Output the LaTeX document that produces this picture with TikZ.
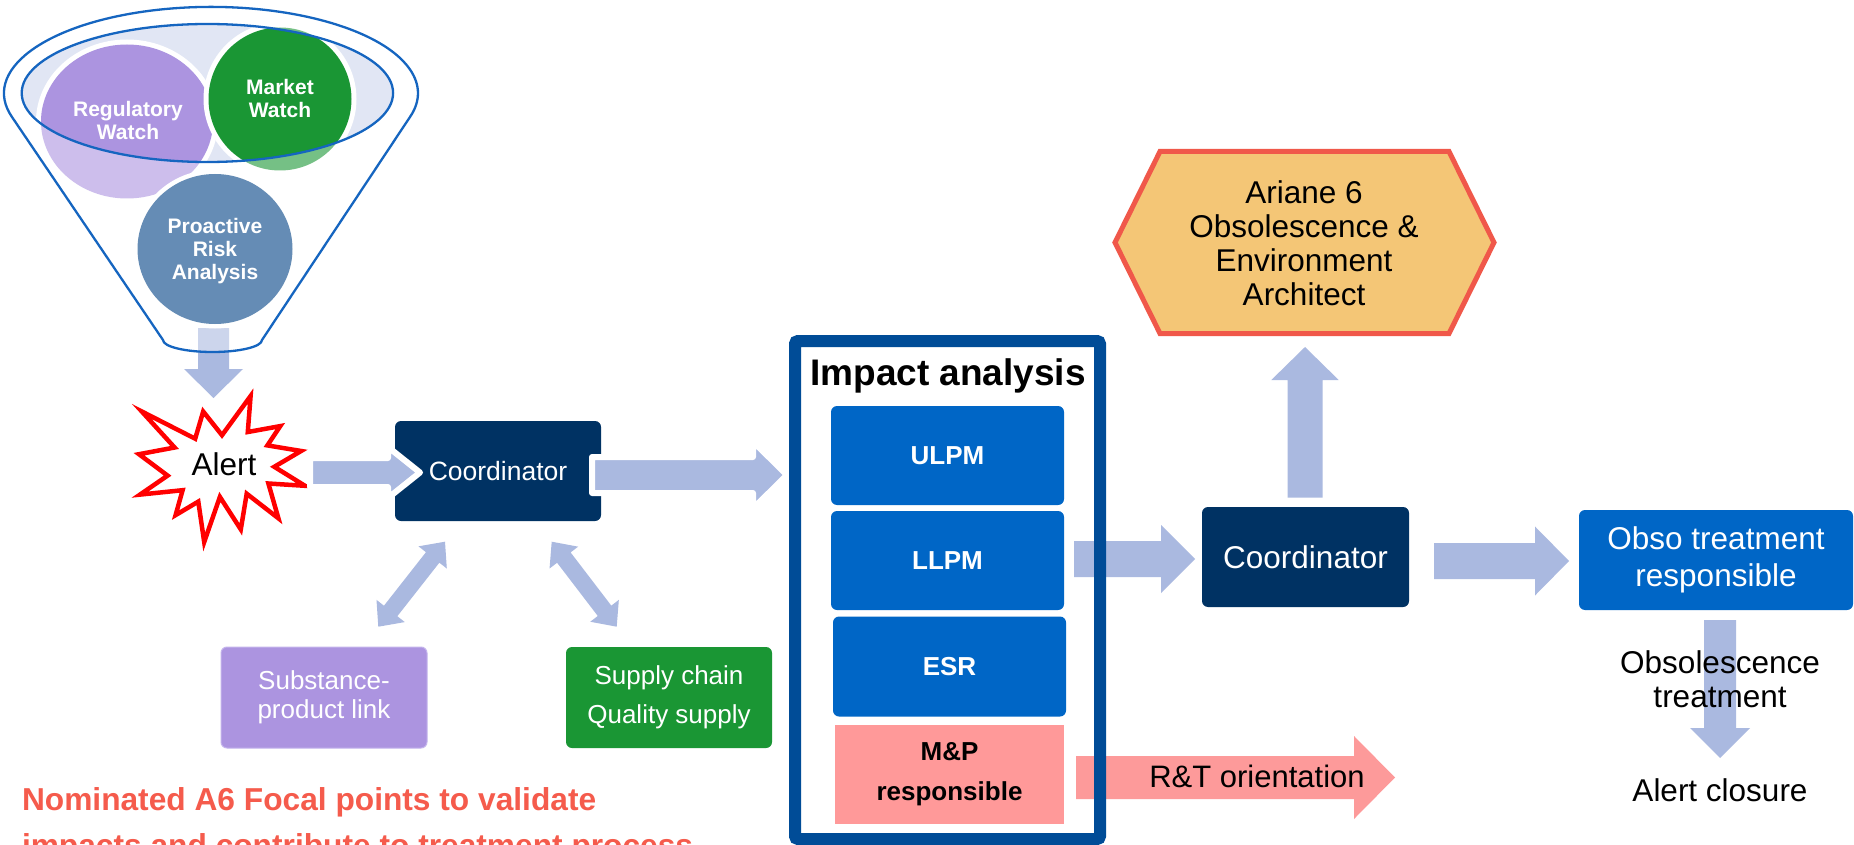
\documentclass[tikz,border=0pt]{standalone}
\usepackage{fontspec}
\setmainfont{Liberation Sans}
\usetikzlibrary{calc}
\definecolor{navy}{RGB}{0,50,99}
\definecolor{boxblue}{RGB}{0,102,198}
\definecolor{frameblue}{RGB}{0,76,151}
\definecolor{arrowblue}{RGB}{170,185,224}
\definecolor{arrowpink}{RGB}{253,154,154}
\definecolor{mppink}{RGB}{255,153,153}
\definecolor{lavender}{RGB}{172,148,224}
\definecolor{lavborder}{RGB}{196,180,236}
\definecolor{mygreen}{RGB}{26,150,52}
\definecolor{problue}{RGB}{101,140,181}
\definecolor{funnelblue}{RGB}{21,101,192}
\definecolor{ellfill}{RGB}{225,230,244}
\definecolor{hexfill}{RGB}{244,198,118}
\definecolor{hexline}{RGB}{240,88,74}
\definecolor{redtext}{RGB}{245,91,76}
% block arrow: style, from, to, shaft half width, head half width, head length
\newcommand\blockarrow[6]{%
  \coordinate (bahead) at ($(#3)!#6!(#2)$);
  \path[#1] ($(#2)!#4!90:(#3)$) -- ($(bahead)!#4!-90:(#2)$) -- ($(bahead)!#5!-90:(#2)$)
    -- (#3) -- ($(bahead)!#5!90:(#2)$) -- ($(bahead)!#4!90:(#2)$) -- ($(#2)!#4!-90:(#3)$) -- cycle;
}
% double block arrow
\newcommand\dblarrow[6]{%
  \coordinate (daA) at ($(#2)!#6!(#3)$);
  \coordinate (daB) at ($(#3)!#6!(#2)$);
  \path[#1] (#2) -- ($(daA)!#5!90:(#3)$) -- ($(daA)!#4!90:(#3)$) -- ($(daB)!#4!-90:(#2)$)
    -- ($(daB)!#5!-90:(#2)$) -- (#3) -- ($(daB)!#5!90:(#2)$) -- ($(daB)!#4!90:(#2)$)
    -- ($(daA)!#4!-90:(#3)$) -- ($(daA)!#5!-90:(#3)$) -- cycle;
}
\newcommand\funnelpath{(12,117) arc[start angle=164, end angle=376, x radius=207, y radius=86.3] -- (262,340) arc[start angle=0, end angle=180, x radius=49.5, y radius=12] -- cycle}
\begin{document}
\begin{tikzpicture}[x=1pt,y=-1pt,
  every node/.style={inner sep=0pt, outer sep=0pt, align=center},
  bigtxt/.style={font=\fontsize{31.5}{34}\selectfont},
  circtxt/.style={font=\bfseries\fontsize{21}{23}\selectfont, text=white},
  navybox/.style={rectangle, rounded corners=6pt, fill=navy, text=white, minimum height=100pt},
  bluebox/.style={rectangle, rounded corners=6pt, fill=boxblue, text=white, minimum width=233pt, minimum height=99pt, font=\bfseries\fontsize{26}{29}\selectfont},
  blockblue/.style={fill=arrowblue},
  blockpink/.style={fill=arrowpink},
  outlined/.style={fill=arrowblue, draw=white, line width=6pt, line join=round},
]
\useasboundingbox (0,0) rectangle (1854,845);
\fill[white] (0,0) rectangle (1854,845);

% ---------- funnel ----------
\fill[ellfill] (207.4,93) ellipse[x radius=185.7, y radius=69];
\fill[white] (127,121.5) ellipse[x radius=91, y radius=82];
\fill[lavender] (127,121.5) ellipse[x radius=86, y radius=77];
\fill[white] (280,99) circle[radius=76.5];
\fill[mygreen] (280,99) circle[radius=71.5];
\coordinate (fun-s) at (213.5,328);
\coordinate (fun-e) at (213.5,398);
\blockarrow{blockblue}{fun-s}{fun-e}{15.5pt}{29.5pt}{29pt}
\fill[white, fill opacity=0.4, even odd rule] \funnelpath (207.4,93) ellipse[x radius=185.7, y radius=69];
\fill[white] (215,249) ellipse[x radius=82, y radius=79.5];
\fill[problue] (215,249) ellipse[x radius=77.5, y radius=75];
\draw[funnelblue, line width=2.3pt] (207.4,93) ellipse[x radius=185.7, y radius=69];
\draw[funnelblue, line width=2.3pt, line join=round] \funnelpath;
\node[circtxt] (reg) at (128,120) {Regulatory\\Watch};
\node[circtxt] (mkt) at (280,98) {Market\\Watch};
\node[circtxt] (pra) at (215,251) {Proactive\\Risk\\Analysis};

% ---------- alert ----------
\draw[red, fill=white, line width=4.5pt, line join=miter]
  (222.0,435.2) -- (250.6,396) -- (247.8,432.0) -- (280.3,426.1) -- (267.4,445.4)
  -- (301.1,451.0) -- (274.3,466.8) -- (305.0,485.8) -- (268.4,483.5) -- (278.4,518.3)
  -- (246.7,493.7) -- (240.8,529.4) -- (219.9,496.9) -- (204.2,542) -- (198.3,501.6)
  -- (175.6,515.1) -- (182.6,490.2) -- (140.0,494.6) -- (167.6,475.6) -- (139,454.2)
  -- (174.6,447.5) -- (141.8,411.5) -- (195.2,438.7) -- (203.2,411.5) -- cycle;
\node[bigtxt] (alert) at (224,464) {Alert};

% ---------- coordinator 1 and partners ----------
\node[navybox, minimum width=206pt, font=\fontsize{26.5}{30}\selectfont] (coord1) at (498,471) {Coordinator};
\coordinate (al-s) at (310,472.5);
\coordinate (al-e) at (420,472.5);
\blockarrow{outlined}{al-s}{al-e}{14.5pt}{25.5pt}{32pt}
\coordinate (c1-s) at (592,475);
\coordinate (c1-e) at (787,475);
\blockarrow{outlined}{c1-s}{c1-e}{18pt}{33.5pt}{34pt}

\node[rectangle, rounded corners=6pt, fill=lavender, draw=lavborder, line width=1pt, text=white,
  minimum width=206pt, minimum height=101pt, font=\fontsize{26}{29}\selectfont] (subst) at (324,697.5) {Substance-\\product link};
\node[rectangle, rounded corners=6pt, fill=mygreen, text=white,
  minimum width=206pt, minimum height=101pt, font=\fontsize{26}{39}\selectfont] (supply) at (669,697.5) {Supply chain\\Quality supply};
\coordinate (d1a) at (378.3,626.7);
\coordinate (d1b) at (445,541.7);
\dblarrow{blockblue}{d1a}{d1b}{8.5pt}{18pt}{20pt}
\coordinate (d2a) at (551.7,541.7);
\coordinate (d2b) at (616.7,626.7);
\dblarrow{blockblue}{d2a}{d2b}{8.5pt}{18pt}{20pt}

\node[anchor=base west, font=\bfseries\fontsize{31.7}{46}\selectfont, text=redtext] (note1) at (22,810) {Nominated A6 Focal points to validate};
\node[anchor=base west, font=\bfseries\fontsize{31.7}{46}\selectfont, text=redtext] (note2) at (22,856) {impacts and contribute to treatment process};

% ---------- impact analysis ----------
\node[anchor=base, font=\bfseries\fontsize{37}{40}\selectfont] (title) at (948,385) {Impact analysis};
\node[bluebox] (ulpm) at (947.5,455.5) {ULPM};
\node[bluebox] (llpm) at (947.5,560.5) {LLPM};
\node[bluebox, minimum height=100pt] (esr) at (949.5,666.5) {ESR};
\node[rectangle, fill=mppink, minimum width=229pt, minimum height=99pt,
  font=\bfseries\fontsize{26}{40}\selectfont] (mp) at (949.5,774.5) {M\&P\\responsible};
\coordinate (ll-s) at (1074,559);
\coordinate (ll-e) at (1195,559);
\blockarrow{blockblue}{ll-s}{ll-e}{18pt}{34pt}{34pt}
\coordinate (rt-s) at (1076,777.5);
\coordinate (rt-e) at (1395,777.5);
\blockarrow{blockpink}{rt-s}{rt-e}{21.5pt}{41.5pt}{41pt}
\node[font=\fontsize{31}{34}\selectfont] (rt) at (1257,776) {R\&T orientation};
\node[draw=frameblue, line width=12pt, rounded corners=3pt, minimum width=305pt, minimum height=498pt] (impact) at (947.5,590) {};

% ---------- right part ----------
\node[navybox, minimum width=207pt, font=\fontsize{31.5}{34}\selectfont] (coord2) at (1305.5,557) {Coordinator};
\draw[hexline, fill=hexfill, line width=5pt, line join=miter]
  (1115,242.5) -- (1160,151.5) -- (1449,151.5) -- (1494,242.5) -- (1449,333.5) -- (1160,333.5) -- cycle;
\node[bigtxt] (arch) at (1304,243) {Ariane 6\\Obsolescence \&\\Environment\\Architect};
\coordinate (up-s) at (1305,497.5);
\coordinate (up-e) at (1305,347);
\blockarrow{blockblue}{up-s}{up-e}{17.5pt}{33.7pt}{33pt}
\coordinate (c2-s) at (1434,561);
\coordinate (c2-e) at (1569,561);
\blockarrow{blockblue}{c2-s}{c2-e}{18pt}{34.5pt}{34pt}
\node[rectangle, rounded corners=6pt, fill=boxblue, text=white, minimum width=274pt, minimum height=100pt,
  font=\fontsize{31.5}{37}\selectfont] (obso) at (1716,560) {Obso treatment\\responsible};
\coordinate (ob-s) at (1720,620);
\coordinate (ob-e) at (1720,758);
\blockarrow{blockblue}{ob-s}{ob-e}{16pt}{30pt}{30pt}
\node[bigtxt] (otreat) at (1720,679) {Obsolescence\\treatment};
\node[bigtxt] (closure) at (1720,790) {Alert closure};
\end{tikzpicture}
\end{document}
